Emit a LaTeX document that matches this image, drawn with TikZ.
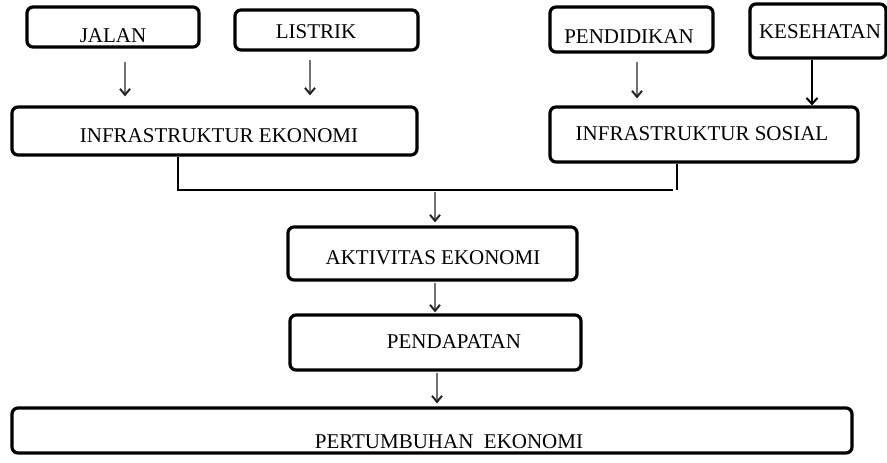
\documentclass[tikz,border=0pt]{standalone}
\usepackage{fontspec}
\setmainfont{Liberation Serif}
\usetikzlibrary{arrows.meta}
\begin{document}
\begin{tikzpicture}[x=1pt,y=-1pt,
  box/.style={draw=black,line width=3.2pt,rounded corners=6pt,rectangle,inner sep=0pt},
  lbl/.style={anchor=base,inner sep=0pt,font=\fontsize{21}{24}\selectfont},
  arr/.style={draw=black!55,line width=1.4pt,-{Straight Barb[length=6pt,width=10pt,line width=2pt,color=black!85]}},
  brk/.style={draw=black,line width=2.6pt}]
\useasboundingbox (0,0) rectangle (887,463);
% boxes
\node[box,minimum width=172pt,minimum height=40pt] (jalan) at (113,27) {};
\node[box,minimum width=183pt,minimum height=40pt] (listrik) at (326.5,30) {};
\node[box,minimum width=405pt,minimum height=48pt] (eko) at (214.5,131) {};
\node[box,minimum width=163pt,minimum height=45pt] (pend) at (631.5,29.5) {};
\node[box,minimum width=136pt,minimum height=54pt] (kes) at (818,31) {};
\node[box,minimum width=308pt,minimum height=55pt] (sos) at (704,134.5) {};
\node[box,minimum width=289pt,minimum height=53pt] (akt) at (432.5,253.5) {};
\node[box,minimum width=291pt,minimum height=55pt] (pdp) at (435.5,342.5) {};
\node[box,minimum width=840pt,minimum height=45pt] (ptb) at (432,430.5) {};
% labels
\node[lbl] (jalant) at (113,42) {JALAN};
\node[lbl] (listrikt) at (316,38) {LISTRIK};
\node[lbl] (ekot) at (219,142) {INFRASTRUKTUR EKONOMI};
\node[lbl] (pendt) at (629,43) {PENDIDIKAN};
\node[lbl] (kest) at (820,38) {KESEHATAN};
\node[lbl] (sost) at (702,140) {INFRASTRUKTUR SOSIAL};
\node[lbl] (aktt) at (433,264) {AKTIVITAS EKONOMI};
\node[lbl] (pdpt) at (454,348) {PENDAPATAN};
\node[lbl] (ptbt) at (449,448) {PERTUMBUHAN\ \ EKONOMI};
% arrows
\draw[arr,shorten <=13pt,shorten >=9pt] ([xshift=12pt]jalan.south) -- ([xshift=12pt]jalan.south |- eko.north);
\draw[arr,shorten <=8pt,shorten >=10pt] ([xshift=-16.5pt]listrik.south) -- ([xshift=-16.5pt]listrik.south |- eko.north);
\draw[arr,shorten <=8pt,shorten >=7pt] ([xshift=5.5pt]pend.south) -- ([xshift=5.5pt]pend.south |- sos.north);
\draw[draw=black,line width=2.8pt,-{Straight Barb[length=6pt,width=11pt,line width=2pt]}] ([xshift=-6pt]kes.south) -- ([xshift=-6pt]kes.south |- sos.north);
% bracket
\coordinate (bl) at (178,190);
\coordinate (br) at (673,190);
\coordinate (jn) at (435,190);
\draw[brk] (eko.south -| bl) -- (bl) -- (br);
\draw[brk] ([xshift=-27pt]sos.south) -- ([xshift=-27pt,yshift=-26pt]sos.south);
\draw[arr,shorten <=2pt,shorten >=3pt] (jn) -- (jn |- akt.north);
\draw[arr,shorten <=1pt,shorten >=1pt] ([xshift=2.5pt]akt.south) -- ([xshift=2.5pt]akt.south |- pdp.north);
\draw[arr,shorten <=1pt,shorten >=3pt] ([xshift=1.5pt]pdp.south) -- ([xshift=1.5pt]pdp.south |- ptb.north);
\end{tikzpicture}
\end{document}
